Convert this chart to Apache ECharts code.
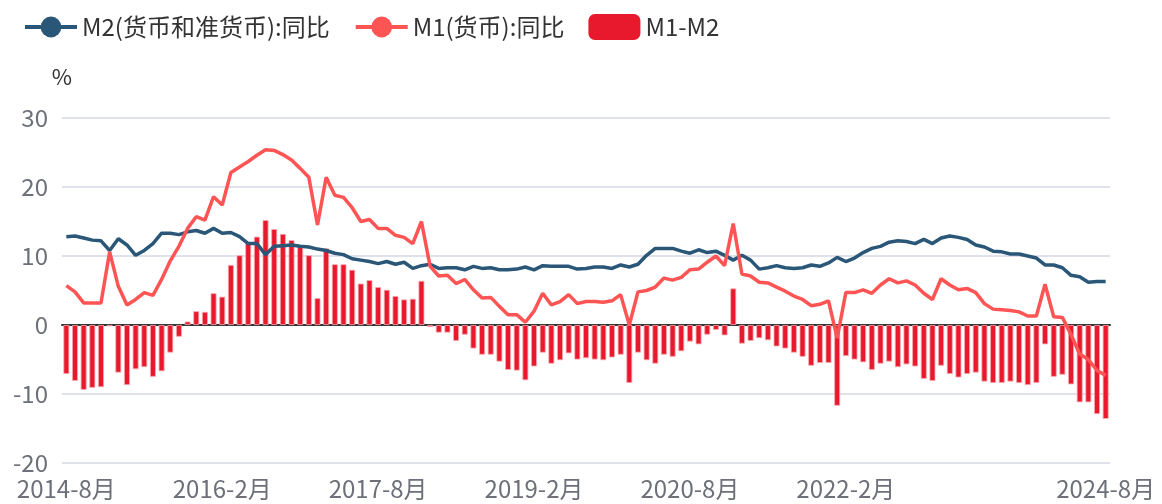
<!DOCTYPE html>
<html>
<head>
<meta charset="utf-8">
<script src="https://cdn.jsdelivr.net/npm/echarts@6/dist/echarts.min.js"></script>
<style>
  html, body { margin: 0; padding: 0; background: #fff; }
  #chart { width: 1162px; height: 504px; }
</style>
</head>
<body>
<div id="chart"></div>
<script>
// 月份 2014-8 ~ 2024-8
var months = [];
for (var y = 2014; y <= 2024; y++) {
  for (var m = 1; m <= 12; m++) {
    if (y === 2014 && m < 8) continue;
    if (y === 2024 && m > 8) break;
    months.push(y + '-' + m + '月');
  }
}

// M2(货币和准货币):同比
var m2Yoy = [
  12.8, 12.9, 12.6, 12.3, 12.2,
  10.8, 12.5, 11.6, 10.1, 10.8, 11.8, 13.3, 13.3, 13.1, 13.5, 13.7, 13.3,
  14.0, 13.3, 13.4, 12.8, 11.8, 11.8, 10.2, 11.4, 11.5, 11.6, 11.4, 11.3,
  11.0, 10.8, 10.4, 10.2, 9.6, 9.4, 9.2, 8.9, 9.2, 8.8, 9.1, 8.2,
  8.6, 8.8, 8.2, 8.3, 8.3, 8.0, 8.5, 8.2, 8.3, 8.0, 8.0, 8.1,
  8.4, 8.0, 8.6, 8.5, 8.5, 8.5, 8.1, 8.2, 8.4, 8.4, 8.2, 8.7,
  8.4, 8.8, 10.1, 11.1, 11.1, 11.1, 10.7, 10.4, 10.9, 10.5, 10.7, 10.1,
  9.4, 10.1, 9.4, 8.1, 8.3, 8.6, 8.3, 8.2, 8.3, 8.7, 8.5, 9.0,
  9.8, 9.2, 9.7, 10.5, 11.1, 11.4, 12.0, 12.2, 12.1, 11.8, 12.4, 11.8,
  12.6, 12.9, 12.7, 12.4, 11.6, 11.3, 10.7, 10.6, 10.3, 10.3, 10.0, 9.7,
  8.7, 8.7, 8.3, 7.2, 7.0, 6.2, 6.3, 6.3
];

// M1(货币):同比
var m1Yoy = [
  5.7, 4.8, 3.2, 3.2, 3.2,
  10.6, 5.6, 2.9, 3.7, 4.7, 4.3, 6.6, 9.3, 11.4, 14.0, 15.7, 15.2,
  18.6, 17.4, 22.1, 22.9, 23.7, 24.6, 25.4, 25.3, 24.7, 23.9, 22.7, 21.4,
  14.5, 21.4, 18.8, 18.5, 17.0, 15.0, 15.3, 14.0, 14.0, 13.0, 12.7, 11.8,
  15.0, 8.5, 7.1, 7.2, 6.0, 6.6, 5.1, 3.9, 4.0, 2.7, 1.5, 1.5,
  0.4, 2.0, 4.6, 2.9, 3.4, 4.4, 3.1, 3.4, 3.4, 3.3, 3.5, 4.4,
  0.0, 4.8, 5.0, 5.5, 6.8, 6.5, 6.9, 8.0, 8.1, 9.1, 10.0, 8.6,
  14.7, 7.4, 7.1, 6.2, 6.1, 5.5, 4.9, 4.2, 3.7, 2.8, 3.0, 3.5,
  -1.9, 4.7, 4.7, 5.1, 4.6, 5.8, 6.7, 6.1, 6.4, 5.8, 4.6, 3.7,
  6.7, 5.8, 5.1, 5.3, 4.7, 3.1, 2.3, 2.2, 2.1, 1.9, 1.3, 1.3,
  5.9, 1.2, 1.1, -1.4, -4.2, -5.0, -6.6, -7.3
];

// M1-M2 剪刀差
var m1m2Gap = [
  -7.1, -8.1, -9.4, -9.1, -9.0,
  -0.2, -6.9, -8.7, -6.4, -6.1, -7.5, -6.7, -4.0, -1.7, 0.5, 2.0, 1.9,
  4.6, 4.1, 8.7, 10.1, 11.9, 12.8, 15.2, 13.9, 13.2, 12.3, 11.4, 10.1,
  3.9, 11.1, 8.8, 8.8, 8.0, 6.0, 6.5, 5.5, 5.1, 4.2, 3.7, 3.8,
  6.4, -0.3, -1.1, -1.1, -2.3, -1.4, -3.4, -4.3, -4.3, -5.3, -6.5, -6.6,
  -8.0, -6.0, -4.0, -5.6, -5.1, -4.1, -5.0, -4.8, -5.0, -5.1, -4.7, -4.3,
  -8.4, -4.0, -5.1, -5.6, -4.3, -4.6, -3.8, -2.4, -2.8, -1.4, -0.7, -1.5,
  5.3, -2.7, -2.3, -1.9, -2.2, -3.1, -3.4, -4.0, -4.6, -5.9, -5.5, -5.5,
  -11.7, -4.5, -5.0, -5.4, -6.5, -5.6, -5.3, -6.1, -5.7, -6.0, -7.8, -8.1,
  -5.9, -7.1, -7.6, -7.1, -6.9, -8.2, -8.4, -8.4, -8.2, -8.4, -8.7, -8.4,
  -2.8, -7.5, -7.2, -8.6, -11.2, -11.2, -12.9, -13.6
];

var fontFamily = '"Noto Sans CJK SC", "Noto Sans", sans-serif';
var fontSize = 24;

var chart = echarts.init(document.getElementById('chart'), null, { renderer: 'canvas' });
var option = {
  animation: false,
  textStyle: { fontFamily: fontFamily },
  legend: {
    left: 18,
    top: 9,
    itemWidth: 52,
    itemHeight: 26,
    itemGap: 24,
    itemStyle: { borderWidth: 0 },
    lineStyle: { width: 4 },
    textStyle: { fontSize: fontSize, color: '#333', fontFamily: fontFamily },
    data: ['M2(货币和准货币):同比', 'M1(货币):同比', 'M1-M2']
  },
  grid: { left: 62, right: 52, top: 118, bottom: 41 },
  xAxis: {
    type: 'category',
    data: months,
    boundaryGap: true,
    axisLine: { lineStyle: { color: '#333', width: 2 } },
    axisTick: {
      length: 8,
      interval: function (i) { return i % 18 === 0; },
      lineStyle: { color: '#333', width: 2 }
    },
    axisLabel: {
      interval: function (i) { return (i % 18 === 0 && i !== 108) || i === months.length - 1; },
      color: '#6E7079',
      fontSize: fontSize,
      margin: 14,
      fontFamily: fontFamily
    }
  },
  yAxis: {
    type: 'value',
    min: -20,
    max: 30,
    interval: 10,
    name: '%',
    nameGap: 30,
    nameTextStyle: { color: '#333', fontSize: 22, fontFamily: fontFamily },
    axisLine: { show: false },
    axisTick: { show: false },
    axisLabel: { color: '#6E7079', fontSize: fontSize, margin: 14, fontFamily: fontFamily },
    splitLine: { lineStyle: { color: '#D6D9E5', width: 1.5 } }
  },
  series: [
    {
      name: 'M2(货币和准货币):同比',
      type: 'line',
      data: m2Yoy,
      symbol: 'circle',
      showSymbol: false,
      z: 3,
      itemStyle: { color: '#2A5677' },
      lineStyle: { color: '#2A5677', width: 3.5 }
    },
    {
      name: 'M1(货币):同比',
      type: 'line',
      data: m1Yoy,
      symbol: 'circle',
      showSymbol: false,
      z: 3,
      itemStyle: { color: '#FF5454' },
      lineStyle: { color: '#FF5454', width: 3.5 }
    },
    {
      name: 'M1-M2',
      type: 'bar',
      data: m1m2Gap,
      barCategoryGap: '32%',
      itemStyle: { color: '#E8192C', borderColor: '#F7A8B0', borderWidth: 0.8 }
    }
  ]
};
chart.setOption(option);
</script>
</body>
</html>
